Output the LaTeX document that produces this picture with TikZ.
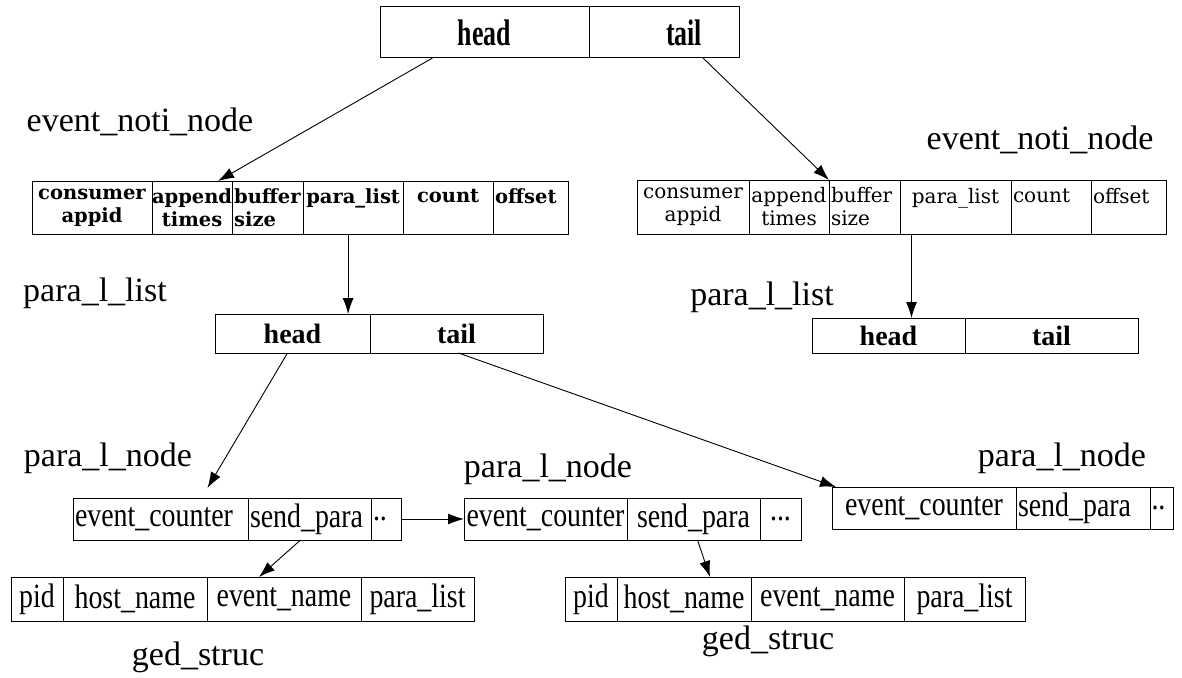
\documentclass[tikz,border=0pt]{standalone}
\usepackage{fontspec}
\setmainfont{Liberation Serif}
\newfontfamily\narrowfont[FakeStretch=0.82]{Liberation Serif}
\newfontfamily\headfont[FakeStretch=0.7]{Liberation Serif}
\newfontfamily\schoolfont{DejaVu Serif}
\usetikzlibrary{positioning, arrows.meta}

\begin{document}
\begin{tikzpicture}[x=1pt, y=-1pt,
  cell/.style={draw, line width=1pt, inner sep=0pt, outer sep=0pt, align=center},
  lcell/.style={text width=#1, align=left},
  headcell/.style={cell, minimum height=51pt, font=\headfont\bfseries\fontsize{37}{40}\selectfont},
  evcell/.style={cell, minimum height=53pt, font=\schoolfont\bfseries\fontsize{19.5}{23}\selectfont},
  evcellr/.style={cell, minimum height=54pt, font=\schoolfont\fontsize{20}{23}\selectfont},
  listcell/.style={cell, font=\bfseries\fontsize{28}{30}\selectfont},
  nodecell/.style={cell, minimum height=42pt, font=\narrowfont\fontsize{34}{38}\selectfont},
  gedcell/.style={cell, minimum height=44pt, font=\narrowfont\fontsize{34}{38}\selectfont},
  lbl/.style={inner sep=0pt, font=\fontsize{34}{40}\selectfont},
  arr/.style={-{Latex[length=16pt, width=11pt]}, line width=0.9pt}
]
  \useasboundingbox (0,0) rectangle (1182,677);

  % top list
  \node[headcell, minimum width=209pt, anchor=north west] (topHead) at (380,7) {head};
  \node[headcell, minimum width=150pt, right=0pt of topHead] (topTail) {\hspace*{40pt}tail};

  % event_noti_node (left)
  \node[lbl] (lblEvL) at (140,122) {event\_noti\_node};
  \node[evcell, minimum width=120pt, anchor=north west] (evL1) at (32,181) {consumer\\appid};
  \node[evcell, minimum width=80pt, right=0pt of evL1] (evL2) {append\\times};
  \node[evcell, minimum width=71pt, lcell=67pt, right=0pt of evL2] (evL3) {buffer\\size};
  \node[evcell, minimum width=100pt, right=0pt of evL3] (evL4) {para\_list\\\mbox{}};
  \node[evcell, minimum width=90pt, right=0pt of evL4] (evL5) {count\\\mbox{}};
  \node[evcell, minimum width=75pt, lcell=71pt, right=0pt of evL5] (evL6) {offset\\\mbox{}};

  % event_noti_node (right)
  \node[lbl] (lblEvR) at (1040,140) {event\_noti\_node};
  \node[evcellr, minimum width=112pt, anchor=north west] (evR1) at (637,180) {consumer\\appid};
  \node[evcellr, minimum width=80pt, right=0pt of evR1] (evR2) {append\\times};
  \node[evcellr, minimum width=71pt, lcell=67pt, right=0pt of evR2] (evR3) {buffer\\size};
  \node[evcellr, minimum width=111pt, right=0pt of evR3] (evR4) {para\_list\\\mbox{}};
  \node[evcellr, minimum width=80pt, lcell=76pt, right=0pt of evR4] (evR5) {count\\\mbox{}};
  \node[evcellr, minimum width=75pt, lcell=71pt, right=0pt of evR5] (evR6) {offset\\\mbox{}};

  % para_l_list
  \node[lbl] (lblPlL) at (95,293) {para\_l\_list};
  \node[listcell, minimum width=155pt, minimum height=39pt, anchor=north west] (plL1) at (215,314) {head};
  \node[listcell, minimum width=173pt, minimum height=39pt, right=0pt of plL1] (plL2) {tail};
  \node[lbl] (lblPlR) at (762,297) {para\_l\_list};
  \node[listcell, minimum width=153pt, minimum height=35pt, anchor=north west] (plR1) at (812,318) {head};
  \node[listcell, minimum width=173pt, minimum height=35pt, right=0pt of plR1] (plR2) {tail};

  % para_l_node
  \node[lbl] (lblPnL) at (108,458) {para\_l\_node};
  \node[nodecell, minimum width=175pt, lcell=171pt, anchor=north west] (pnL1) at (73,498) {event\_counter};
  \node[nodecell, minimum width=123pt, lcell=119pt, right=0pt of pnL1] (pnL2) {send\_para};
  \node[nodecell, minimum width=30pt, lcell=26pt, right=0pt of pnL2] (pnL3) {..};
  \node[lbl] (lblPnM) at (548,469) {para\_l\_node};
  \node[nodecell, minimum width=163pt, anchor=north west] (pnM1) at (464,498) {event\_counter};
  \node[nodecell, minimum width=133pt, right=0pt of pnM1] (pnM2) {send\_para};
  \node[nodecell, minimum width=41pt, right=0pt of pnM2] (pnM3) {...};
  \node[lbl] (lblPnR) at (1062,458) {para\_l\_node};
  \node[nodecell, minimum width=184pt, anchor=north west] (pnR1) at (832,487) {event\_counter};
  \node[nodecell, minimum width=134pt, lcell=130pt, right=0pt of pnR1] (pnR2) {send\_para};
  \node[nodecell, minimum width=23pt, lcell=20pt, right=0pt of pnR2] (pnR3) {..};

  % ged_struc
  \node[gedcell, minimum width=52pt, anchor=north west] (gedL1) at (11,577) {pid};
  \node[gedcell, minimum width=144pt, right=0pt of gedL1] (gedL2) {host\_name};
  \node[gedcell, minimum width=154pt, right=0pt of gedL2] (gedL3) {event\_name};
  \node[gedcell, minimum width=113pt, right=0pt of gedL3] (gedL4) {para\_list};
  \node[lbl] (lblGedL) at (198,657) {ged\_struc};
  \node[gedcell, minimum width=52pt, anchor=north west] (gedR1) at (565,577) {pid};
  \node[gedcell, minimum width=134pt, right=0pt of gedR1] (gedR2) {host\_name};
  \node[gedcell, minimum width=153pt, right=0pt of gedR2] (gedR3) {event\_name};
  \node[gedcell, minimum width=121pt, right=0pt of gedR3] (gedR4) {para\_list};
  \node[lbl] (lblGedR) at (768,641) {ged\_struc};

  % pointers
  \draw[arr] ([xshift=-52pt]topHead.south) -- ([xshift=26pt]evL2.north);
  \draw[arr] ([xshift=39pt]topTail.south) -- (evR3.north west);
  \draw[arr] ([xshift=-5pt]evL4.south) -- ([xshift=-5pt]evL4.south |- plL1.north);
  \draw[arr] ([xshift=-44pt]evR4.south) -- ([xshift=-44pt]evR4.south |- plR1.north);
  \draw[arr] ([xshift=-5pt]plL1.south) -- ([xshift=47pt, yshift=10pt]pnL1.north);
  \draw[arr] ([xshift=2pt]plL2.south) -- ([xshift=4pt]pnR1.north west);
  \draw[arr] (pnL3.east) -- (pnM1.west);
  \draw[arr] ([xshift=-9pt]pnL2.south) -- ([xshift=-25pt]gedL3.north);
  \draw[arr] ([xshift=4pt]pnM2.south) -- ([xshift=26pt]gedR2.north);
\end{tikzpicture}
\end{document}
